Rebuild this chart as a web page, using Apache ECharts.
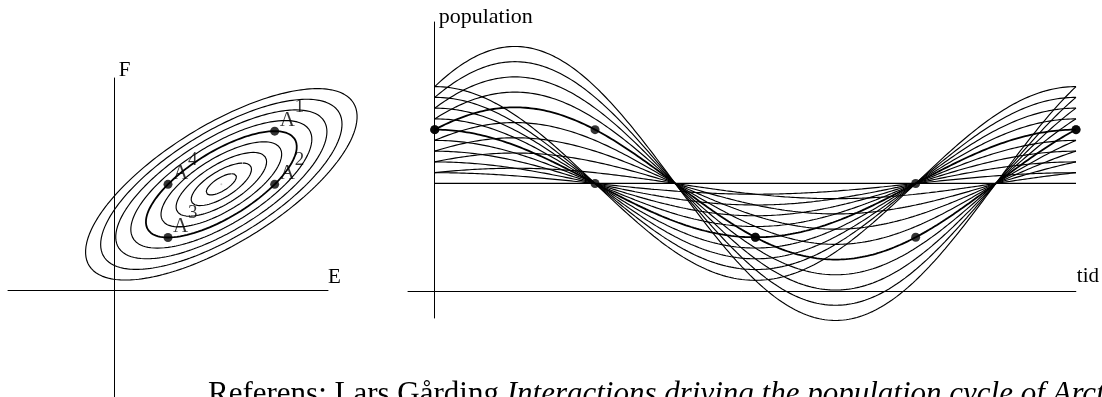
<!DOCTYPE html>
<html><head><meta charset="utf-8">
<script src="https://cdn.jsdelivr.net/npm/echarts@6/dist/echarts.min.js"></script>
<style>html,body{margin:0;padding:0;background:#fff;overflow:hidden}#c{width:1102px;height:397px}</style>
</head><body><div id="c"></div>
<script>
// ---- values ----
// orbit sizes: deviation of F from equilibrium at t = 0 (one curve / ellipse each)
const orbitSizes = [1, 2, 3, 4, 5, 6, 7, 8, 9];
const highlightedOrbit = 5;          // the orbit through A1..A4
const equilibrium = 10;              // equilibrium level of E and F
const period = 12;                   // one full cycle along "tid"
const markedTimes = [0, 3, 6, 9, 12];// A1, A2, A3, A4, A1 again
const markedLabels = ['1', '2', '3', '4'];
const leftAxisNames = ['E', 'F'];
const rightAxisNames = ['tid', 'population'];
const referenceParts = ['Referens: Lars Gårding ', 'Interactions driving the population cycle of Arctic small rodents'];

// linearised predator-prey cycle: E lags F by pi/4 and is sqrt(2) larger
function E(r, t) { const th = 2 * Math.PI * t / period; return equilibrium + r * (Math.cos(th) + Math.sin(th)); }
function F(r, t) { const th = 2 * Math.PI * t / period; return equilibrium + r * Math.cos(th); }

const N = 240;
const times = Array.from({length: N + 1}, (_, i) => period * i / N);

const serif = 'Liberation Serif';
const series = [];
function lineS(xi, data, w) {
  return {type: 'line', xAxisIndex: xi, yAxisIndex: xi, data: data, showSymbol: false, symbol: 'none',
    silent: true, animation: false, lineStyle: {color: '#000', width: w}, z: 2};
}
orbitSizes.forEach(r => {
  const w = r === highlightedOrbit ? 1.8 : 1.15;
  series.push(lineS(2, times.map(t => [E(r, t), F(r, t)]), w));
  series.push(lineS(3, times.map(t => [t, E(r, t)]), w));
  series.push(lineS(3, times.map(t => [t, F(r, t)]), w));
});
series.push(lineS(3, [[0, equilibrium], [period, equilibrium]], 1.3));
series.push({type: 'scatter', xAxisIndex: 2, yAxisIndex: 2, data: [[equilibrium, equilibrium]], symbolSize: 2,
  itemStyle: {color: '#bbb'}, silent: true, animation: false});

const aPoints = markedLabels.map((lab, i) => ({value: [E(highlightedOrbit, markedTimes[i]), F(highlightedOrbit, markedTimes[i])], name: lab}));
series.push({type: 'scatter', xAxisIndex: 2, yAxisIndex: 2, data: aPoints, symbolSize: 9, itemStyle: {color: '#000'},
  silent: true, animation: false, z: 5,
  label: {show: true, formatter: 'A', position: 'right', distance: 0, align: 'left', verticalAlign: 'middle', offset: [0.5, -11],
    fontFamily: serif, fontSize: 21, color: '#000', textBorderWidth: 0}});
series.push({type: 'scatter', xAxisIndex: 2, yAxisIndex: 2, data: aPoints, symbolSize: 9, itemStyle: {color: 'rgba(0,0,0,0)'},
  silent: true, animation: false, z: 5,
  label: {show: true, formatter: p => p.name, position: 'right', distance: 0, align: 'left', verticalAlign: 'middle', offset: [15.5, -24],
    fontFamily: serif, fontSize: 19, color: '#000', textBorderWidth: 0}});

const tPoints = [];
markedTimes.forEach(t => { tPoints.push([t, F(highlightedOrbit, t)]); tPoints.push([t, E(highlightedOrbit, t)]); });
series.push({type: 'scatter', xAxisIndex: 3, yAxisIndex: 3, data: tPoints, symbolSize: 9, itemStyle: {color: '#000'},
  silent: true, animation: false, z: 5});

function axisBase(extra) {
  return Object.assign({type: 'value', axisLine: {show: true, onZero: true, lineStyle: {color: '#000', width: 1}},
    axisTick: {show: false}, axisLabel: {show: false}, splitLine: {show: false}, nameLocation: 'end'}, extra);
}
function hiddenAxis(extra) {
  return Object.assign({type: 'value', show: false, axisLine: {show: false}, axisTick: {show: false},
    axisLabel: {show: false}, splitLine: {show: false}}, extra);
}
const nameStyle = (fs, va, pad) => ({fontFamily: serif, fontSize: fs, color: '#000', align: 'left', verticalAlign: va, padding: pad});

// right panel: the curves' overlay grid has the same scale as the axes grid but reaches lower
const rightH = 296, rightMin = -2.5, rightMax = 25, overlayMin = -3.5;
const overlayH = rightH * (rightMax - overlayMin) / (rightMax - rightMin);

const option = {
  backgroundColor: '#fff',
  animation: false,
  grid: [
    {left: 8, top: 78, width: 320, height: 319},
    {left: 408, top: 22, width: 668, height: rightH},
    {left: 8, top: 78, width: 360, height: 319},
    {left: 408, top: 22, width: 668, height: overlayH}
  ],
  xAxis: [
    axisBase({gridIndex: 0, min: -10, max: 20, name: leftAxisNames[0], nameGap: 0, nameTextStyle: nameStyle(21, 'bottom', [0, 0, 3, 0])}),
    axisBase({gridIndex: 1, min: -0.5, max: 12, name: rightAxisNames[0], nameGap: 1, nameTextStyle: nameStyle(21, 'bottom', [0, 0, 4, 0])}),
    hiddenAxis({gridIndex: 2, min: -10, max: 23.75}),
    hiddenAxis({gridIndex: 3, min: -0.5, max: 12})
  ],
  yAxis: [
    axisBase({gridIndex: 0, min: -10, max: 20, name: leftAxisNames[1], nameGap: -3, nameTextStyle: nameStyle(21, 'bottom', [0, 0, 0, 4])}),
    axisBase({gridIndex: 1, min: rightMin, max: rightMax, name: rightAxisNames[1], nameGap: -6, nameTextStyle: nameStyle(22, 'bottom', [0, 0, 0, 4])}),
    hiddenAxis({gridIndex: 2, min: -10, max: 20}),
    hiddenAxis({gridIndex: 3, min: overlayMin, max: rightMax})
  ],
  series: series,
  graphic: [{
    type: 'text', x: 208, y: 410, silent: true,
    style: {
      text: '{r|' + referenceParts[0] + '}{i|' + referenceParts[1] + '}',
      verticalAlign: 'bottom',
      rich: {
        r: {fontFamily: serif, fontSize: 31, fill: '#000'},
        i: {fontFamily: serif, fontSize: 31, fontStyle: 'italic', fill: '#000'}
      }
    }
  }]
};
const chart = echarts.init(document.getElementById('c'));
chart.setOption(option);
</script>
</body></html>
